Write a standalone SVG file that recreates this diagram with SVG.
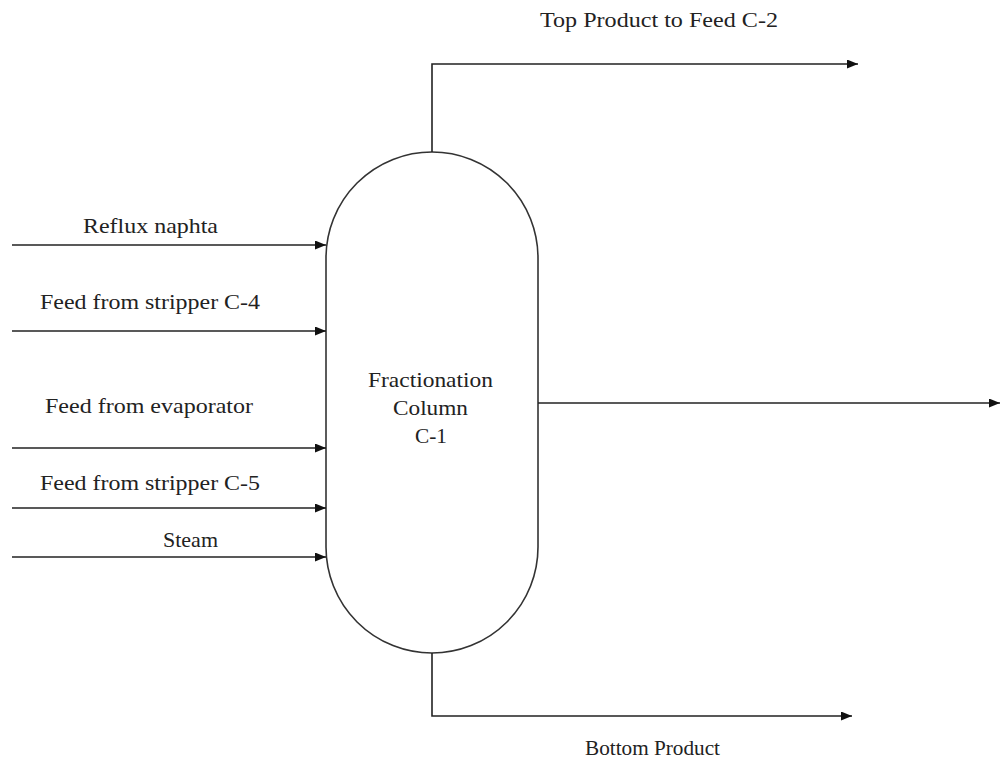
<svg xmlns="http://www.w3.org/2000/svg" width="1000" height="767" viewBox="0 0 1000 767">
<style>
.ln{fill:none;stroke:#222;stroke-width:1.6}
.t{font-family:"Liberation Serif","Times New Roman",serif;font-size:21px;fill:#222}
.c{text-anchor:middle}
</style>
<defs>
<marker id="ah" markerWidth="11" markerHeight="9" refX="11" refY="4.5" orient="auto" markerUnits="userSpaceOnUse">
<path d="M0,0 L11,4.5 L0,9 Z" fill="#111"/>
</marker>
</defs>
<rect width="1000" height="767" fill="#fff"/>
<g id="column">
<rect x="326" y="152" width="212" height="501" rx="106" ry="106" fill="#fff" stroke="#333" stroke-width="1.6"/>
<text class="t" x="368" y="387" textLength="125" lengthAdjust="spacingAndGlyphs">Fractionation</text>
<text class="t" x="393" y="415" textLength="75" lengthAdjust="spacingAndGlyphs">Column</text>
<text class="t" x="415" y="443" textLength="32" lengthAdjust="spacingAndGlyphs">C-1</text>
</g>
<g id="connectors">
<path class="ln" d="M432,152 V64 H858" marker-end="url(#ah)"/>
<path class="ln" d="M432,653 V716 H852" marker-end="url(#ah)"/>
<path class="ln" d="M538,403 H1000" marker-end="url(#ah)"/>
<path class="ln" d="M12,245 H326" marker-end="url(#ah)"/>
<path class="ln" d="M12,331 H326" marker-end="url(#ah)"/>
<path class="ln" d="M12,448 H326" marker-end="url(#ah)"/>
<path class="ln" d="M12,508 H326" marker-end="url(#ah)"/>
<path class="ln" d="M12,557 H326" marker-end="url(#ah)"/>
</g>
<g id="labels">
<text class="t" x="540" y="27" textLength="238" lengthAdjust="spacingAndGlyphs">Top Product to Feed C-2</text>
<text class="t" x="83" y="233" textLength="135" lengthAdjust="spacingAndGlyphs">Reflux naphta</text>
<text class="t" x="40" y="309" textLength="220" lengthAdjust="spacingAndGlyphs">Feed from stripper C-4</text>
<text class="t" x="45" y="413" textLength="208" lengthAdjust="spacingAndGlyphs">Feed from evaporator</text>
<text class="t" x="40" y="490" textLength="220" lengthAdjust="spacingAndGlyphs">Feed from stripper C-5</text>
<text class="t" x="163" y="547" textLength="55" lengthAdjust="spacingAndGlyphs">Steam</text>
<text class="t" x="585" y="755" textLength="135" lengthAdjust="spacingAndGlyphs">Bottom Product</text>
</g>
</svg>
